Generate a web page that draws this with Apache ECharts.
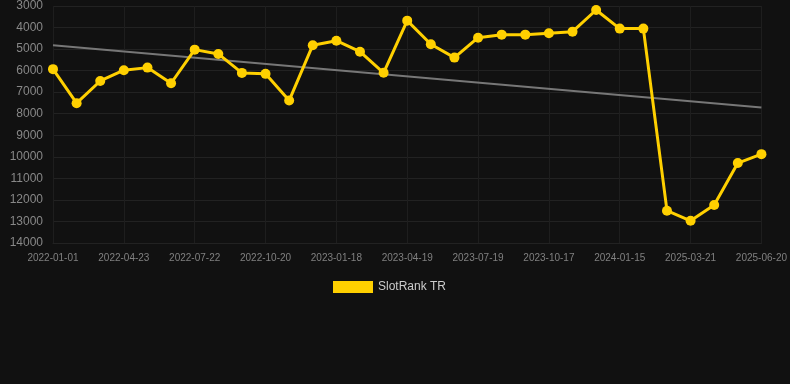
<!DOCTYPE html>
<html>
<head>
<meta charset="utf-8">
<script src="https://cdn.jsdelivr.net/npm/echarts@6/dist/echarts.min.js"></script>
<style>
  html, body { margin: 0; padding: 0; background: #111111; }
  #chart { width: 790px; height: 384px; }
</style>
</head>
<body>
<div id="chart"></div>
<script>
// dates (one point per ~30 days, labels every third point)
const dates = [
  '2022-01-01', '2022-02-22', '2022-03-24', '2022-04-23', '2022-05-23', '2022-06-22',
  '2022-07-22', '2022-08-21', '2022-09-20', '2022-10-20', '2022-11-19', '2022-12-19',
  '2023-01-18', '2023-02-17', '2023-03-19', '2023-04-19', '2023-05-19', '2023-06-18',
  '2023-07-19', '2023-08-18', '2023-09-17', '2023-10-17', '2023-11-16', '2023-12-16',
  '2024-01-15', '2024-02-14', '2025-02-19', '2025-03-21', '2025-04-20', '2025-05-20',
  '2025-06-20'
];

// rank values
const rankTR = [
  5930, 7510, 6480, 5980, 5860, 6585,
  5025, 5225, 6105, 6150, 7390, 4820,
  4610, 5120, 6100, 3680, 4775, 5395,
  4470, 4330, 4330, 4265, 4190, 3185,
  4050, 4050, 12500, 12970, 12240, 10290,
  9875
];

// trend line end points
const trendStart = 4820;
const trendEnd = 7715;

const trend = dates.map((d, i) => {
  if (i === 0) return trendStart;
  if (i === dates.length - 1) return trendEnd;
  return null;
});

const chart = echarts.init(document.getElementById('chart'));

chart.setOption({
  backgroundColor: '#111111',
  animation: false,
  grid: { left: 53, right: 28, top: 6, bottom: 141 },
  tooltip: { trigger: 'axis' },
  legend: {
    top: 276,
    left: 328,
    data: [{ name: 'SlotRank TR', icon: 'rect' }],
    itemWidth: 40,
    itemHeight: 12,
    textStyle: { color: '#cccccc', fontSize: 12, fontFamily: 'Liberation Sans, Arial, sans-serif' }
  },
  xAxis: {
    type: 'category',
    data: dates,
    boundaryGap: false,
    axisLine: { show: true, lineStyle: { color: '#222222' } },
    axisTick: { show: false },
    axisLabel: {
      interval: 2,
      color: '#808080',
      fontSize: 10,
      margin: 10,
      fontFamily: 'Liberation Sans, Arial, sans-serif'
    },
    splitLine: { show: true, interval: 2, lineStyle: { color: '#1e1e1e', width: 1 } }
  },
  yAxis: {
    type: 'value',
    inverse: true,
    min: 3000,
    max: 14000,
    interval: 1000,
    axisLine: { show: false },
    axisTick: { show: false },
    axisLabel: {
      color: '#888888',
      fontSize: 12,
      margin: 10,
      formatter: v => String(v),
      fontFamily: 'Liberation Sans, Arial, sans-serif'
    },
    splitLine: { lineStyle: { color: '#222222', width: 1 } }
  },
  series: [
    {
      name: 'Trend',
      type: 'line',
      data: trend,
      connectNulls: true,
      showSymbol: false,
      symbol: 'none',
      lineStyle: { color: '#777777', width: 2 },
      tooltip: { show: false },
      z: 1
    },
    {
      name: 'SlotRank TR',
      type: 'line',
      data: rankTR,
      symbol: 'circle',
      symbolSize: 10,
      showAllSymbol: true,
      itemStyle: { color: '#FFD000' },
      lineStyle: { color: '#FFD000', width: 3 },
      z: 3
    }
  ]
});
</script>
</body>
</html>
